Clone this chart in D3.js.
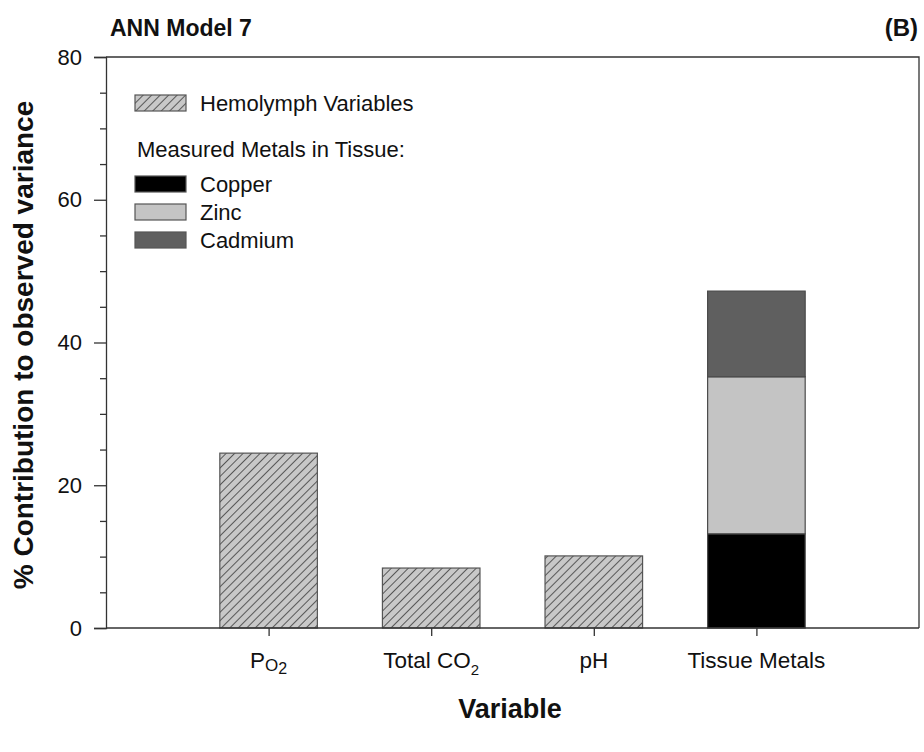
<!DOCTYPE html>
<html>
<head>
<meta charset="utf-8">
<script src="https://cdn.jsdelivr.net/npm/d3@7"></script>
<style>
  html, body { margin: 0; padding: 0; background: #fff; }
  svg { display: block; font-family: "Liberation Sans", Arial, sans-serif; }
</style>
</head>
<body>
<svg id="chart" width="924" height="752"></svg>
<script>
// ---- data ----
const categories = ["PO2", "Total CO2", "pH", "Tissue Metals"];
const hemolymphValues = [24.5, 8.4, 10.1, null];
const metalNames = ["Copper", "Zinc", "Cadmium"];
const metalValues = [13.2, 22.0, 12.0];          // stacked on "Tissue Metals"
const metalColors = ["#000000", "#c4c4c4", "#5f5f5f"];
const yTicks = [0, 20, 40, 60, 80];
const yMinorTicks = [5, 10, 15, 25, 30, 35, 45, 50, 55, 65, 70, 75];

const svg = d3.select("#chart");
const mLeft = 106, mRight = 919, mTop = 57, mBottom = 628;

const x = d3.scalePoint().domain(categories).range([mLeft, mRight]).padding(1);
const y = d3.scaleLinear().domain([0, 80]).range([mBottom, mTop]);
const barW = x.step() * 0.6;

// hatch pattern
const defs = svg.append("defs");
const pat = defs.append("pattern").attr("id", "hatch").attr("patternUnits", "userSpaceOnUse")
  .attr("width", 6).attr("height", 6).attr("patternTransform", "rotate(45)");
pat.append("rect").attr("width", 6).attr("height", 6).attr("fill", "#c8c8c8");
pat.append("line").attr("x1", 0).attr("y1", 0).attr("x2", 0).attr("y2", 6)
  .attr("stroke", "#3a3a3a").attr("stroke-width", 1.6);

// bars: hemolymph
const hemData = categories.map((c, i) => ({c, v: hemolymphValues[i]})).filter(d => d.v != null);
svg.append("g").selectAll("rect").data(hemData).join("rect")
  .attr("x", d => x(d.c) - barW / 2)
  .attr("y", d => y(d.v))
  .attr("width", barW)
  .attr("height", d => y(0) - y(d.v))
  .attr("fill", "url(#hatch)")
  .attr("stroke", "#555").attr("stroke-width", 1.2);

// stacked metals
let acc = 0;
const stack = metalValues.map((v, i) => { const d = {y0: acc, y1: acc + v, color: metalColors[i]}; acc += v; return d; });
svg.append("g").selectAll("rect").data(stack).join("rect")
  .attr("x", x("Tissue Metals") - barW / 2)
  .attr("y", d => y(d.y1))
  .attr("width", barW)
  .attr("height", d => y(d.y0) - y(d.y1))
  .attr("fill", d => d.color)
  .attr("stroke", "#4a4a4a").attr("stroke-width", 1.2);

// axes
const axisColor = "#333";
const yAxis = svg.append("g").attr("transform", `translate(${mLeft},0)`)
  .call(d3.axisLeft(y).tickValues(yTicks).tickSize(12).tickPadding(12).tickFormat(d3.format("d")));
yAxis.selectAll("text").attr("font-size", 22).attr("fill", "#111").attr("font-family", "Liberation Sans, Arial, sans-serif");
svg.append("g").attr("transform", `translate(${mLeft},0)`)
  .call(d3.axisLeft(y).tickValues(yMinorTicks).tickSize(6).tickFormat(""))
  .call(g => g.select(".domain").remove());
const xAxis = svg.append("g").attr("transform", `translate(0,${mBottom})`)
  .call(d3.axisBottom(x).tickSize(8).tickFormat(""));
xAxis.select(".domain").attr("d", `M${mLeft},0H${mRight}`);
svg.selectAll(".domain, .tick line").attr("stroke", axisColor).attr("stroke-width", 1.3);

// frame top & right
svg.append("path").attr("d", `M${mLeft},${mTop}H${mRight}V${mBottom}`)
  .attr("fill", "none").attr("stroke", axisColor).attr("stroke-width", 1.3);

// category labels (with subscripts)
const labY = 668;
const catG = svg.append("g").attr("font-size", 22.5).attr("fill", "#111").attr("text-anchor", "middle");
function catLabel(c) {
  const t = catG.append("text").attr("x", x(c)).attr("y", labY);
  if (c === "PO2") {
    t.append("tspan").text("P");
    t.append("tspan").attr("font-size", 17).attr("dy", 3).text("O");
    t.append("tspan").attr("font-size", 16).attr("dy", 3).text("2");
  } else if (c === "Total CO2") {
    t.append("tspan").text("Total CO");
    t.append("tspan").attr("font-size", 15).attr("dy", 7).text("2");
  } else {
    t.text(c);
  }
}
categories.forEach(catLabel);

// titles
svg.append("text").attr("x", 110).attr("y", 36).attr("font-size", 23).attr("font-weight", "bold")
  .attr("fill", "#111").text("ANN Model 7");
svg.append("text").attr("x", 918).attr("y", 36).attr("font-size", 24).attr("font-weight", "bold")
  .attr("text-anchor", "end").attr("fill", "#111").text("(B)");
svg.append("text").attr("x", 510).attr("y", 718).attr("font-size", 27).attr("font-weight", "bold")
  .attr("text-anchor", "middle").attr("fill", "#111").text("Variable");
svg.append("text").attr("transform", `translate(33,345) rotate(-90)`)
  .attr("font-size", 28).attr("font-weight", "bold").attr("text-anchor", "middle").attr("fill", "#111")
  .text("% Contribution to observed variance");

// legend
const lg = svg.append("g").attr("font-size", 22).attr("fill", "#111");
const boxX = 135, boxW = 51, boxH = 16;
lg.append("rect").attr("x", boxX).attr("y", 95).attr("width", boxW).attr("height", boxH)
  .attr("fill", "url(#hatch)").attr("stroke", "#555").attr("stroke-width", 1.2);
lg.append("text").attr("x", 200).attr("y", 111).text("Hemolymph Variables");
lg.append("text").attr("x", 137).attr("y", 157).text("Measured Metals in Tissue:");
const legY = [176, 204, 232];
metalNames.forEach((n, i) => {
  lg.append("rect").attr("x", boxX).attr("y", legY[i]).attr("width", boxW).attr("height", boxH)
    .attr("fill", metalColors[i]).attr("stroke", "#555").attr("stroke-width", 1.2);
  lg.append("text").attr("x", 200).attr("y", legY[i] + 16).text(n);
});
</script>
</body>
</html>
